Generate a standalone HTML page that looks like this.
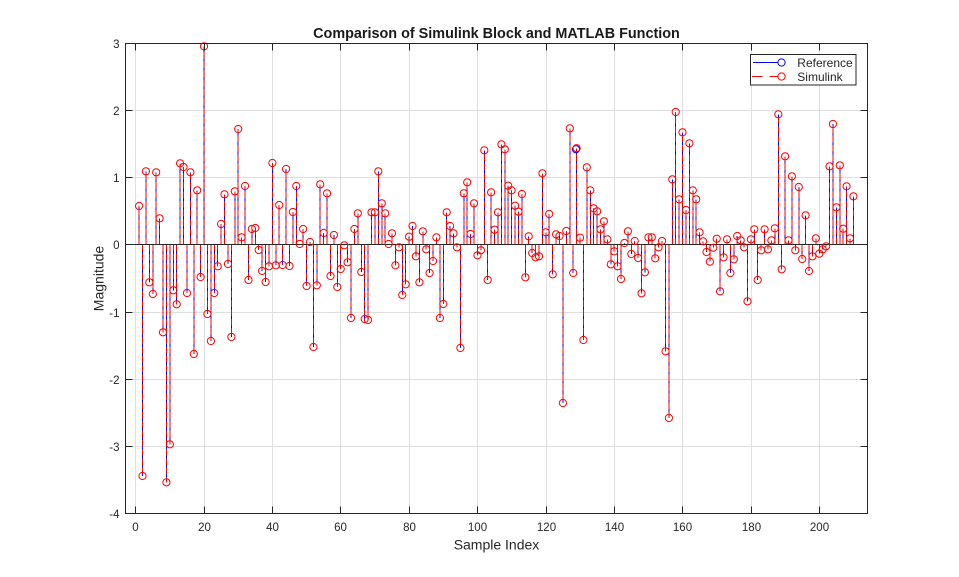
<!DOCTYPE html>
<html>
<head>
<meta charset="utf-8">
<style>
html,body{margin:0;padding:0;background:#fff;}
svg{display:block;}
text{font-family:"Liberation Sans",Arial,sans-serif;fill:#262626;}
</style>
</head>
<body>
<svg width="959" height="577" viewBox="0 0 959 577" xmlns="http://www.w3.org/2000/svg">
<rect x="0" y="0" width="959" height="577" fill="#fff"/>
<rect x="125.5" y="43.5" width="742" height="470" fill="#fff"/>
<!-- grid -->
<g stroke="#dfdfdf" stroke-width="1" shape-rendering="crispEdges">
<path d="M135.5 43.5V513.5M204.5 43.5V513.5M272.5 43.5V513.5M340.5 43.5V513.5M409.5 43.5V513.5M477.5 43.5V513.5M546.5 43.5V513.5M614.5 43.5V513.5M682.5 43.5V513.5M751.5 43.5V513.5M819.5 43.5V513.5"/>
<path d="M125.5 110.5H867.5M125.5 177.5H867.5M125.5 312.5H867.5M125.5 379.5H867.5M125.5 446.5H867.5"/>
</g>
<!-- blue stems -->
<g stroke="#0000ff" stroke-width="1" fill="none" shape-rendering="crispEdges">
<path d="M139.1 244.5V206.0M142.5 244.5V476.0M145.9 244.5V171.3M149.3 244.5V282.3M152.8 244.5V294.0M156.2 244.5V172.3M159.6 244.5V218.3M163.0 244.5V332.3M166.4 244.5V482.3M169.9 244.5V444.3M173.3 244.5V290.3M176.7 244.5V304.3M180.1 244.5V163.3M183.5 244.5V167.0M187.0 244.5V293.0M190.4 244.5V172.3M193.8 244.5V354.0M197.2 244.5V190.3M200.6 244.5V277.0M204.0 244.5V46.3M207.4 244.5V314.0M210.9 244.5V341.0M214.3 244.5V293.0M217.7 244.5V266.3M221.1 244.5V224.0M224.5 244.5V194.3M228.0 244.5V264.0M231.4 244.5V337.0M234.8 244.5V191.3M238.2 244.5V129.0M241.6 244.5V237.3M245.0 244.5V186.0M248.5 244.5V280.0M251.9 244.5V229.0M255.3 244.5V228.0M258.7 244.5V250.0M262.1 244.5V271.0M265.6 244.5V282.0M269.0 244.5V266.3M272.4 244.5V163.0M275.8 244.5V265.3M279.2 244.5V205.0M282.6 244.5V265.0M286.1 244.5V169.0M289.5 244.5V266.0M292.9 244.5V212.0M296.3 244.5V186.0M299.7 244.5V244.0M303.1 244.5V229.0M306.6 244.5V286.0M310.0 244.5V242.0M313.4 244.5V347.0M316.8 244.5V285.3M320.2 244.5V184.3M323.7 244.5V233.0M327.1 244.5V193.3M330.5 244.5V276.0M333.9 244.5V235.0M337.3 244.5V287.0M340.7 244.5V269.0M344.2 244.5V245.3M347.6 244.5V262.3M351.0 244.5V318.0M354.4 244.5V229.0M357.8 244.5V213.3M361.3 244.5V272.0M364.7 244.5V319.0M368.1 244.5V320.0M371.5 244.5V212.3M374.9 244.5V212.3M378.3 244.5V171.3M381.8 244.5V203.3M385.2 244.5V213.3M388.6 244.5V244.0M392.0 244.5V233.3M395.4 244.5V265.3M398.9 244.5V247.3M402.3 244.5V295.0M405.7 244.5V284.3M409.1 244.5V236.7M412.5 244.5V226.0M415.9 244.5V256.3M419.4 244.5V282.3M422.8 244.5V231.3M426.2 244.5V249.3M429.6 244.5V273.0M433.0 244.5V261.0M436.4 244.5V237.3M439.9 244.5V318.0M443.3 244.5V304.0M446.7 244.5V212.3M450.1 244.5V226.0M453.5 244.5V233.3M457.0 244.5V247.3M460.4 244.5V348.0M463.8 244.5V193.3M467.2 244.5V182.3M470.6 244.5V234.0M474.0 244.5V203.3M477.5 244.5V255.3M480.9 244.5V250.3M484.3 244.5V150.3M487.7 244.5V280.0M491.1 244.5V192.3M494.6 244.5V229.7M498.0 244.5V212.3M501.4 244.5V144.3M504.8 244.5V149.3M508.2 244.5V185.7M511.6 244.5V190.3M515.1 244.5V205.7M518.5 244.5V211.7M521.9 244.5V194.0M525.3 244.5V277.3M528.7 244.5V236.3M532.2 244.5V253.0M535.6 244.5V257.3M539.0 244.5V256.3M542.4 244.5V173.3M545.8 244.5V232.3M549.2 244.5V214.0M552.7 244.5V274.3M556.1 244.5V234.3M559.5 244.5V236.0M562.9 244.5V403.0M566.3 244.5V231.0M569.8 244.5V128.3M573.2 244.5V273.0M576.6 244.5V148.7M580.0 244.5V237.7M583.4 244.5V340.0M586.8 244.5V167.3M590.3 244.5V190.3M593.7 244.5V208.3M597.1 244.5V211.3M600.5 244.5V229.3M603.9 244.5V221.3M607.4 244.5V239.3M610.8 244.5V264.3M614.2 244.5V251.3M617.6 244.5V266.3M621.0 244.5V279.0M624.4 244.5V243.0M627.9 244.5V231.3M631.3 244.5V254.0M634.7 244.5V241.0M638.1 244.5V258.0M641.5 244.5V293.3M644.9 244.5V272.3M648.4 244.5V237.3M651.8 244.5V237.3M655.2 244.5V258.3M658.6 244.5V247.3M662.0 244.5V241.0M665.5 244.5V351.3M668.9 244.5V418.0M672.3 244.5V179.3M675.7 244.5V112.0M679.1 244.5V199.3M682.5 244.5V132.3M686.0 244.5V210.0M689.4 244.5V143.3M692.8 244.5V190.3M696.2 244.5V199.3M699.6 244.5V232.3M703.1 244.5V241.3M706.5 244.5V252.0M709.9 244.5V261.7M713.3 244.5V247.7M716.7 244.5V238.7M720.1 244.5V291.3M723.6 244.5V257.3M727.0 244.5V239.3M730.4 244.5V273.0M733.8 244.5V259.3M737.2 244.5V236.0M740.7 244.5V240.3M744.1 244.5V247.3M747.5 244.5V301.3M750.9 244.5V239.3M754.3 244.5V229.3M757.7 244.5V280.0M761.2 244.5V250.3M764.6 244.5V229.3M768.0 244.5V249.3M771.4 244.5V240.3M774.8 244.5V228.3M778.3 244.5V114.3M781.7 244.5V269.3M785.1 244.5V156.3M788.5 244.5V240.3M791.9 244.5V176.3M795.3 244.5V250.3M798.8 244.5V187.0M802.2 244.5V259.0M805.6 244.5V215.3M809.0 244.5V271.0M812.4 244.5V256.3M815.8 244.5V238.3M819.3 244.5V253.7M822.7 244.5V249.3M826.1 244.5V246.3M829.5 244.5V166.3M832.9 244.5V124.0M836.4 244.5V207.3M839.8 244.5V165.3M843.2 244.5V228.7M846.6 244.5V186.3M850.0 244.5V238.3M853.4 244.5V196.3"/>
</g>
<!-- red dashed stems -->
<g stroke="#ff0000" stroke-width="1" fill="none" stroke-dasharray="6.5 2.8" shape-rendering="crispEdges">
<path d="M139.1 244.5V206.0M142.5 244.5V476.0M145.9 244.5V171.3M149.3 244.5V282.3M152.8 244.5V294.0M156.2 244.5V172.3M159.6 244.5V218.3M163.0 244.5V332.3M166.4 244.5V482.3M169.9 244.5V444.3M173.3 244.5V290.3M176.7 244.5V304.3M180.1 244.5V163.3M183.5 244.5V167.0M187.0 244.5V293.0M190.4 244.5V172.3M193.8 244.5V354.0M197.2 244.5V190.3M200.6 244.5V277.0M204.0 244.5V46.3M207.4 244.5V314.0M210.9 244.5V341.0M214.3 244.5V293.0M217.7 244.5V266.3M221.1 244.5V224.0M224.5 244.5V194.3M228.0 244.5V264.0M231.4 244.5V337.0M234.8 244.5V191.3M238.2 244.5V129.0M241.6 244.5V237.3M245.0 244.5V186.0M248.5 244.5V280.0M251.9 244.5V229.0M255.3 244.5V228.0M258.7 244.5V250.0M262.1 244.5V271.0M265.6 244.5V282.0M269.0 244.5V266.3M272.4 244.5V163.0M275.8 244.5V265.3M279.2 244.5V205.0M282.6 244.5V265.0M286.1 244.5V169.0M289.5 244.5V266.0M292.9 244.5V212.0M296.3 244.5V186.0M299.7 244.5V244.0M303.1 244.5V229.0M306.6 244.5V286.0M310.0 244.5V242.0M313.4 244.5V347.0M316.8 244.5V285.3M320.2 244.5V184.3M323.7 244.5V233.0M327.1 244.5V193.3M330.5 244.5V276.0M333.9 244.5V235.0M337.3 244.5V287.0M340.7 244.5V269.0M344.2 244.5V245.3M347.6 244.5V262.3M351.0 244.5V318.0M354.4 244.5V229.0M357.8 244.5V213.3M361.3 244.5V272.0M364.7 244.5V319.0M368.1 244.5V320.0M371.5 244.5V212.3M374.9 244.5V212.3M378.3 244.5V171.3M381.8 244.5V203.3M385.2 244.5V213.3M388.6 244.5V244.0M392.0 244.5V233.3M395.4 244.5V265.3M398.9 244.5V247.3M402.3 244.5V295.0M405.7 244.5V284.3M409.1 244.5V236.7M412.5 244.5V226.0M415.9 244.5V256.3M419.4 244.5V282.3M422.8 244.5V231.3M426.2 244.5V249.3M429.6 244.5V273.0M433.0 244.5V261.0M436.4 244.5V237.3M439.9 244.5V318.0M443.3 244.5V304.0M446.7 244.5V212.3M450.1 244.5V226.0M453.5 244.5V233.3M457.0 244.5V247.3M460.4 244.5V348.0M463.8 244.5V193.3M467.2 244.5V182.3M470.6 244.5V234.0M474.0 244.5V203.3M477.5 244.5V255.3M480.9 244.5V250.3M484.3 244.5V150.3M487.7 244.5V280.0M491.1 244.5V192.3M494.6 244.5V229.7M498.0 244.5V212.3M501.4 244.5V144.3M504.8 244.5V149.3M508.2 244.5V185.7M511.6 244.5V190.3M515.1 244.5V205.7M518.5 244.5V211.7M521.9 244.5V194.0M525.3 244.5V277.3M528.7 244.5V236.3M532.2 244.5V253.0M535.6 244.5V257.3M539.0 244.5V256.3M542.4 244.5V173.3M545.8 244.5V232.3M549.2 244.5V214.0M552.7 244.5V274.3M556.1 244.5V234.3M559.5 244.5V236.0M562.9 244.5V403.0M566.3 244.5V231.0M569.8 244.5V128.3M573.2 244.5V273.0M576.6 244.5V148.7M580.0 244.5V237.7M583.4 244.5V340.0M586.8 244.5V167.3M590.3 244.5V190.3M593.7 244.5V208.3M597.1 244.5V211.3M600.5 244.5V229.3M603.9 244.5V221.3M607.4 244.5V239.3M610.8 244.5V264.3M614.2 244.5V251.3M617.6 244.5V266.3M621.0 244.5V279.0M624.4 244.5V243.0M627.9 244.5V231.3M631.3 244.5V254.0M634.7 244.5V241.0M638.1 244.5V258.0M641.5 244.5V293.3M644.9 244.5V272.3M648.4 244.5V237.3M651.8 244.5V237.3M655.2 244.5V258.3M658.6 244.5V247.3M662.0 244.5V241.0M665.5 244.5V351.3M668.9 244.5V418.0M672.3 244.5V179.3M675.7 244.5V112.0M679.1 244.5V199.3M682.5 244.5V132.3M686.0 244.5V210.0M689.4 244.5V143.3M692.8 244.5V190.3M696.2 244.5V199.3M699.6 244.5V232.3M703.1 244.5V241.3M706.5 244.5V252.0M709.9 244.5V261.7M713.3 244.5V247.7M716.7 244.5V238.7M720.1 244.5V291.3M723.6 244.5V257.3M727.0 244.5V239.3M730.4 244.5V273.0M733.8 244.5V259.3M737.2 244.5V236.0M740.7 244.5V240.3M744.1 244.5V247.3M747.5 244.5V301.3M750.9 244.5V239.3M754.3 244.5V229.3M757.7 244.5V280.0M761.2 244.5V250.3M764.6 244.5V229.3M768.0 244.5V249.3M771.4 244.5V240.3M774.8 244.5V228.3M778.3 244.5V114.3M781.7 244.5V269.3M785.1 244.5V156.3M788.5 244.5V240.3M791.9 244.5V176.3M795.3 244.5V250.3M798.8 244.5V187.0M802.2 244.5V259.0M805.6 244.5V215.3M809.0 244.5V271.0M812.4 244.5V256.3M815.8 244.5V238.3M819.3 244.5V253.7M822.7 244.5V249.3M826.1 244.5V246.3M829.5 244.5V166.3M832.9 244.5V124.0M836.4 244.5V207.3M839.8 244.5V165.3M843.2 244.5V228.7M846.6 244.5V186.3M850.0 244.5V238.3M853.4 244.5V196.3"/>
</g>
<!-- baseline -->
<path d="M125.5 244.5H867.5" stroke="#262626" stroke-width="1" shape-rendering="crispEdges"/>
<!-- blue marker visible -->
<circle cx="576.0" cy="149.2" r="3.6" fill="none" stroke="#0000ff" stroke-width="1"/>
<!-- red markers -->
<g fill="none" stroke="#ff0000" stroke-width="1">
<circle cx="139.1" cy="206.0" r="3.6"/><circle cx="142.5" cy="476.0" r="3.6"/><circle cx="145.9" cy="171.3" r="3.6"/><circle cx="149.3" cy="282.3" r="3.6"/><circle cx="152.8" cy="294.0" r="3.6"/><circle cx="156.2" cy="172.3" r="3.6"/><circle cx="159.6" cy="218.3" r="3.6"/><circle cx="163.0" cy="332.3" r="3.6"/><circle cx="166.4" cy="482.3" r="3.6"/><circle cx="169.9" cy="444.3" r="3.6"/>
<circle cx="173.3" cy="290.3" r="3.6"/><circle cx="176.7" cy="304.3" r="3.6"/><circle cx="180.1" cy="163.3" r="3.6"/><circle cx="183.5" cy="167.0" r="3.6"/><circle cx="187.0" cy="293.0" r="3.6"/><circle cx="190.4" cy="172.3" r="3.6"/><circle cx="193.8" cy="354.0" r="3.6"/><circle cx="197.2" cy="190.3" r="3.6"/><circle cx="200.6" cy="277.0" r="3.6"/><circle cx="204.0" cy="46.3" r="3.6"/>
<circle cx="207.4" cy="314.0" r="3.6"/><circle cx="210.9" cy="341.0" r="3.6"/><circle cx="214.3" cy="293.0" r="3.6"/><circle cx="217.7" cy="266.3" r="3.6"/><circle cx="221.1" cy="224.0" r="3.6"/><circle cx="224.5" cy="194.3" r="3.6"/><circle cx="228.0" cy="264.0" r="3.6"/><circle cx="231.4" cy="337.0" r="3.6"/><circle cx="234.8" cy="191.3" r="3.6"/><circle cx="238.2" cy="129.0" r="3.6"/>
<circle cx="241.6" cy="237.3" r="3.6"/><circle cx="245.0" cy="186.0" r="3.6"/><circle cx="248.5" cy="280.0" r="3.6"/><circle cx="251.9" cy="229.0" r="3.6"/><circle cx="255.3" cy="228.0" r="3.6"/><circle cx="258.7" cy="250.0" r="3.6"/><circle cx="262.1" cy="271.0" r="3.6"/><circle cx="265.6" cy="282.0" r="3.6"/><circle cx="269.0" cy="266.3" r="3.6"/><circle cx="272.4" cy="163.0" r="3.6"/>
<circle cx="275.8" cy="265.3" r="3.6"/><circle cx="279.2" cy="205.0" r="3.6"/><circle cx="282.6" cy="265.0" r="3.6"/><circle cx="286.1" cy="169.0" r="3.6"/><circle cx="289.5" cy="266.0" r="3.6"/><circle cx="292.9" cy="212.0" r="3.6"/><circle cx="296.3" cy="186.0" r="3.6"/><circle cx="299.7" cy="244.0" r="3.6"/><circle cx="303.1" cy="229.0" r="3.6"/><circle cx="306.6" cy="286.0" r="3.6"/>
<circle cx="310.0" cy="242.0" r="3.6"/><circle cx="313.4" cy="347.0" r="3.6"/><circle cx="316.8" cy="285.3" r="3.6"/><circle cx="320.2" cy="184.3" r="3.6"/><circle cx="323.7" cy="233.0" r="3.6"/><circle cx="327.1" cy="193.3" r="3.6"/><circle cx="330.5" cy="276.0" r="3.6"/><circle cx="333.9" cy="235.0" r="3.6"/><circle cx="337.3" cy="287.0" r="3.6"/><circle cx="340.7" cy="269.0" r="3.6"/>
<circle cx="344.2" cy="245.3" r="3.6"/><circle cx="347.6" cy="262.3" r="3.6"/><circle cx="351.0" cy="318.0" r="3.6"/><circle cx="354.4" cy="229.0" r="3.6"/><circle cx="357.8" cy="213.3" r="3.6"/><circle cx="361.3" cy="272.0" r="3.6"/><circle cx="364.7" cy="319.0" r="3.6"/><circle cx="368.1" cy="320.0" r="3.6"/><circle cx="371.5" cy="212.3" r="3.6"/><circle cx="374.9" cy="212.3" r="3.6"/>
<circle cx="378.3" cy="171.3" r="3.6"/><circle cx="381.8" cy="203.3" r="3.6"/><circle cx="385.2" cy="213.3" r="3.6"/><circle cx="388.6" cy="244.0" r="3.6"/><circle cx="392.0" cy="233.3" r="3.6"/><circle cx="395.4" cy="265.3" r="3.6"/><circle cx="398.9" cy="247.3" r="3.6"/><circle cx="402.3" cy="295.0" r="3.6"/><circle cx="405.7" cy="284.3" r="3.6"/><circle cx="409.1" cy="236.7" r="3.6"/>
<circle cx="412.5" cy="226.0" r="3.6"/><circle cx="415.9" cy="256.3" r="3.6"/><circle cx="419.4" cy="282.3" r="3.6"/><circle cx="422.8" cy="231.3" r="3.6"/><circle cx="426.2" cy="249.3" r="3.6"/><circle cx="429.6" cy="273.0" r="3.6"/><circle cx="433.0" cy="261.0" r="3.6"/><circle cx="436.4" cy="237.3" r="3.6"/><circle cx="439.9" cy="318.0" r="3.6"/><circle cx="443.3" cy="304.0" r="3.6"/>
<circle cx="446.7" cy="212.3" r="3.6"/><circle cx="450.1" cy="226.0" r="3.6"/><circle cx="453.5" cy="233.3" r="3.6"/><circle cx="457.0" cy="247.3" r="3.6"/><circle cx="460.4" cy="348.0" r="3.6"/><circle cx="463.8" cy="193.3" r="3.6"/><circle cx="467.2" cy="182.3" r="3.6"/><circle cx="470.6" cy="234.0" r="3.6"/><circle cx="474.0" cy="203.3" r="3.6"/><circle cx="477.5" cy="255.3" r="3.6"/>
<circle cx="480.9" cy="250.3" r="3.6"/><circle cx="484.3" cy="150.3" r="3.6"/><circle cx="487.7" cy="280.0" r="3.6"/><circle cx="491.1" cy="192.3" r="3.6"/><circle cx="494.6" cy="229.7" r="3.6"/><circle cx="498.0" cy="212.3" r="3.6"/><circle cx="501.4" cy="144.3" r="3.6"/><circle cx="504.8" cy="149.3" r="3.6"/><circle cx="508.2" cy="185.7" r="3.6"/><circle cx="511.6" cy="190.3" r="3.6"/>
<circle cx="515.1" cy="205.7" r="3.6"/><circle cx="518.5" cy="211.7" r="3.6"/><circle cx="521.9" cy="194.0" r="3.6"/><circle cx="525.3" cy="277.3" r="3.6"/><circle cx="528.7" cy="236.3" r="3.6"/><circle cx="532.2" cy="253.0" r="3.6"/><circle cx="535.6" cy="257.3" r="3.6"/><circle cx="539.0" cy="256.3" r="3.6"/><circle cx="542.4" cy="173.3" r="3.6"/><circle cx="545.8" cy="232.3" r="3.6"/>
<circle cx="549.2" cy="214.0" r="3.6"/><circle cx="552.7" cy="274.3" r="3.6"/><circle cx="556.1" cy="234.3" r="3.6"/><circle cx="559.5" cy="236.0" r="3.6"/><circle cx="562.9" cy="403.0" r="3.6"/><circle cx="566.3" cy="231.0" r="3.6"/><circle cx="569.8" cy="128.3" r="3.6"/><circle cx="573.2" cy="273.0" r="3.6"/><circle cx="576.6" cy="148.2" r="3.6"/><circle cx="580.0" cy="237.7" r="3.6"/>
<circle cx="583.4" cy="340.0" r="3.6"/><circle cx="586.8" cy="167.3" r="3.6"/><circle cx="590.3" cy="190.3" r="3.6"/><circle cx="593.7" cy="208.3" r="3.6"/><circle cx="597.1" cy="211.3" r="3.6"/><circle cx="600.5" cy="229.3" r="3.6"/><circle cx="603.9" cy="221.3" r="3.6"/><circle cx="607.4" cy="239.3" r="3.6"/><circle cx="610.8" cy="264.3" r="3.6"/><circle cx="614.2" cy="251.3" r="3.6"/>
<circle cx="617.6" cy="266.3" r="3.6"/><circle cx="621.0" cy="279.0" r="3.6"/><circle cx="624.4" cy="243.0" r="3.6"/><circle cx="627.9" cy="231.3" r="3.6"/><circle cx="631.3" cy="254.0" r="3.6"/><circle cx="634.7" cy="241.0" r="3.6"/><circle cx="638.1" cy="258.0" r="3.6"/><circle cx="641.5" cy="293.3" r="3.6"/><circle cx="644.9" cy="272.3" r="3.6"/><circle cx="648.4" cy="237.3" r="3.6"/>
<circle cx="651.8" cy="237.3" r="3.6"/><circle cx="655.2" cy="258.3" r="3.6"/><circle cx="658.6" cy="247.3" r="3.6"/><circle cx="662.0" cy="241.0" r="3.6"/><circle cx="665.5" cy="351.3" r="3.6"/><circle cx="668.9" cy="418.0" r="3.6"/><circle cx="672.3" cy="179.3" r="3.6"/><circle cx="675.7" cy="112.0" r="3.6"/><circle cx="679.1" cy="199.3" r="3.6"/><circle cx="682.5" cy="132.3" r="3.6"/>
<circle cx="686.0" cy="210.0" r="3.6"/><circle cx="689.4" cy="143.3" r="3.6"/><circle cx="692.8" cy="190.3" r="3.6"/><circle cx="696.2" cy="199.3" r="3.6"/><circle cx="699.6" cy="232.3" r="3.6"/><circle cx="703.1" cy="241.3" r="3.6"/><circle cx="706.5" cy="252.0" r="3.6"/><circle cx="709.9" cy="261.7" r="3.6"/><circle cx="713.3" cy="247.7" r="3.6"/><circle cx="716.7" cy="238.7" r="3.6"/>
<circle cx="720.1" cy="291.3" r="3.6"/><circle cx="723.6" cy="257.3" r="3.6"/><circle cx="727.0" cy="239.3" r="3.6"/><circle cx="730.4" cy="273.0" r="3.6"/><circle cx="733.8" cy="259.3" r="3.6"/><circle cx="737.2" cy="236.0" r="3.6"/><circle cx="740.7" cy="240.3" r="3.6"/><circle cx="744.1" cy="247.3" r="3.6"/><circle cx="747.5" cy="301.3" r="3.6"/><circle cx="750.9" cy="239.3" r="3.6"/>
<circle cx="754.3" cy="229.3" r="3.6"/><circle cx="757.7" cy="280.0" r="3.6"/><circle cx="761.2" cy="250.3" r="3.6"/><circle cx="764.6" cy="229.3" r="3.6"/><circle cx="768.0" cy="249.3" r="3.6"/><circle cx="771.4" cy="240.3" r="3.6"/><circle cx="774.8" cy="228.3" r="3.6"/><circle cx="778.3" cy="114.3" r="3.6"/><circle cx="781.7" cy="269.3" r="3.6"/><circle cx="785.1" cy="156.3" r="3.6"/>
<circle cx="788.5" cy="240.3" r="3.6"/><circle cx="791.9" cy="176.3" r="3.6"/><circle cx="795.3" cy="250.3" r="3.6"/><circle cx="798.8" cy="187.0" r="3.6"/><circle cx="802.2" cy="259.0" r="3.6"/><circle cx="805.6" cy="215.3" r="3.6"/><circle cx="809.0" cy="271.0" r="3.6"/><circle cx="812.4" cy="256.3" r="3.6"/><circle cx="815.8" cy="238.3" r="3.6"/><circle cx="819.3" cy="253.7" r="3.6"/>
<circle cx="822.7" cy="249.3" r="3.6"/><circle cx="826.1" cy="246.3" r="3.6"/><circle cx="829.5" cy="166.3" r="3.6"/><circle cx="832.9" cy="124.0" r="3.6"/><circle cx="836.4" cy="207.3" r="3.6"/><circle cx="839.8" cy="165.3" r="3.6"/><circle cx="843.2" cy="228.7" r="3.6"/><circle cx="846.6" cy="186.3" r="3.6"/><circle cx="850.0" cy="238.3" r="3.6"/><circle cx="853.4" cy="196.3" r="3.6"/>
</g>
<!-- axes box & ticks -->
<g stroke="#262626" stroke-width="1" fill="none" shape-rendering="crispEdges">
<rect x="125.5" y="43.5" width="742" height="470"/>
<path d="M135.5 513.5V506.5M204.5 513.5V506.5M272.5 513.5V506.5M340.5 513.5V506.5M409.5 513.5V506.5M477.5 513.5V506.5M546.5 513.5V506.5M614.5 513.5V506.5M682.5 513.5V506.5M751.5 513.5V506.5M819.5 513.5V506.5"/>
<path d="M135.5 43.5V50.5M204.5 43.5V50.5M272.5 43.5V50.5M340.5 43.5V50.5M409.5 43.5V50.5M477.5 43.5V50.5M546.5 43.5V50.5M614.5 43.5V50.5M682.5 43.5V50.5M751.5 43.5V50.5M819.5 43.5V50.5"/>
<path d="M125.5 43.5H132.5M125.5 110.5H132.5M125.5 177.5H132.5M125.5 244.5H132.5M125.5 312.5H132.5M125.5 379.5H132.5M125.5 446.5H132.5M125.5 513.5H132.5"/>
<path d="M867.5 43.5H860.5M867.5 110.5H860.5M867.5 177.5H860.5M867.5 244.5H860.5M867.5 312.5H860.5M867.5 379.5H860.5M867.5 446.5H860.5M867.5 513.5H860.5"/>
</g>
<!-- x tick labels -->
<g font-size="11.5" text-anchor="middle">
<text x="135.5" y="531">0</text>
<text x="204.5" y="531">20</text>
<text x="272.5" y="531">40</text>
<text x="340.5" y="531">60</text>
<text x="409.5" y="531">80</text>
<text x="477.5" y="531">100</text>
<text x="546.5" y="531">120</text>
<text x="614.5" y="531">140</text>
<text x="682.5" y="531">160</text>
<text x="751.5" y="531">180</text>
<text x="819.5" y="531">200</text>
</g>
<!-- y tick labels -->
<g font-size="11.5" text-anchor="end">
<text x="119.5" y="47.8">3</text>
<text x="119.5" y="114.8">2</text>
<text x="119.5" y="181.8">1</text>
<text x="119.5" y="248.8">0</text>
<text x="119.5" y="316.8">-1</text>
<text x="119.5" y="383.8">-2</text>
<text x="119.5" y="450.8">-3</text>
<text x="119.5" y="517.8">-4</text>
</g>
<!-- labels -->
<text x="496.5" y="549.5" font-size="14" text-anchor="middle">Sample Index</text>
<text transform="translate(103.3,278.5) rotate(-90)" font-size="14" text-anchor="middle">Magnitude</text>
<text x="496.5" y="38" font-size="14.4" font-weight="bold" text-anchor="middle" style="fill:#1a1a1a">Comparison of Simulink Block and MATLAB Function</text>
<!-- legend -->
<rect x="750.5" y="54.5" width="105.5" height="30.5" fill="#fff" stroke="#262626" stroke-width="1" shape-rendering="crispEdges"/>
<path d="M753 62.5H778" stroke="#0000ff" stroke-width="1"/>
<circle cx="781.5" cy="62.5" r="3.6" fill="none" stroke="#0000ff" stroke-width="1"/>
<path d="M752 76.5H778" stroke="#ff0000" stroke-width="1" stroke-dasharray="10.5 7"/>
<circle cx="781.5" cy="76.5" r="3.6" fill="none" stroke="#ff0000" stroke-width="1"/>
<text x="797.3" y="66.8" font-size="12">Reference</text>
<text x="797.3" y="80.8" font-size="12">Simulink</text>
</svg>
</body>
</html>
